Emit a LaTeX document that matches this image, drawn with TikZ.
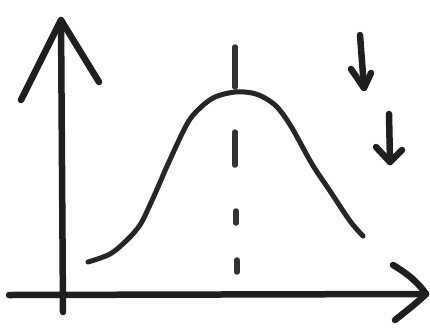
\documentclass[tikz,border=0pt]{standalone}
\begin{document}
\begin{tikzpicture}[x=1pt,y=-1pt,
  ink/.style={line width=6.5pt,line cap=round,line join=round,black!88},
  curve/.style={line width=5pt,line cap=round,line join=round,black!85},
  dashseg/.style={line width=5.5pt,line cap=round,black!80}]
\useasboundingbox (0,0) rectangle (430,327);
% y axis
\coordinate (ybot) at (63,312);
\coordinate (ytop) at (61,20);
\draw[ink] (ybot) -- (ytop);
\draw[ink] (21,100) -- (ytop) -- (99,82);
% x axis
\coordinate (xleft) at (9,295);
\coordinate (xright) at (426,294);
\draw[ink] (xleft) -- (xright);
\draw[ink] (393,265) .. controls (410,275) and (420,285) .. (xright) .. controls (418,302) and (405,312) .. (395,320);
% bell curve
\draw[curve] plot[smooth,tension=0.55] coordinates {(88,262) (110,254) (127,240) (140,225) (149,207) (158,187) (168,164) (187,124) (200,108) (215,97) (235,92) (252,93) (265,98) (278,108) (292,128) (312,164) (330,191) (350,221) (363,236)};
% dashed centre line
\draw[dashseg] (235,47) -- (235,87);
\draw[dashseg] (235,132) -- (235,165);
\draw[dashseg] (236,211) -- (236,223);
\draw[dashseg] (237,260) -- (237,272);
% down arrows
\coordinate (a1t) at (360,35);
\coordinate (a1b) at (364,88);
\draw[ink] (a1t) -- (a1b);
\draw[ink] (351,69) -- (a1b) -- (371,73);
\coordinate (a2t) at (389,114);
\coordinate (a2b) at (390,162);
\draw[ink] (a2t) -- (a2b);
\draw[ink] (376,147) -- (a2b) -- (402,150);
\end{tikzpicture}
\end{document}
